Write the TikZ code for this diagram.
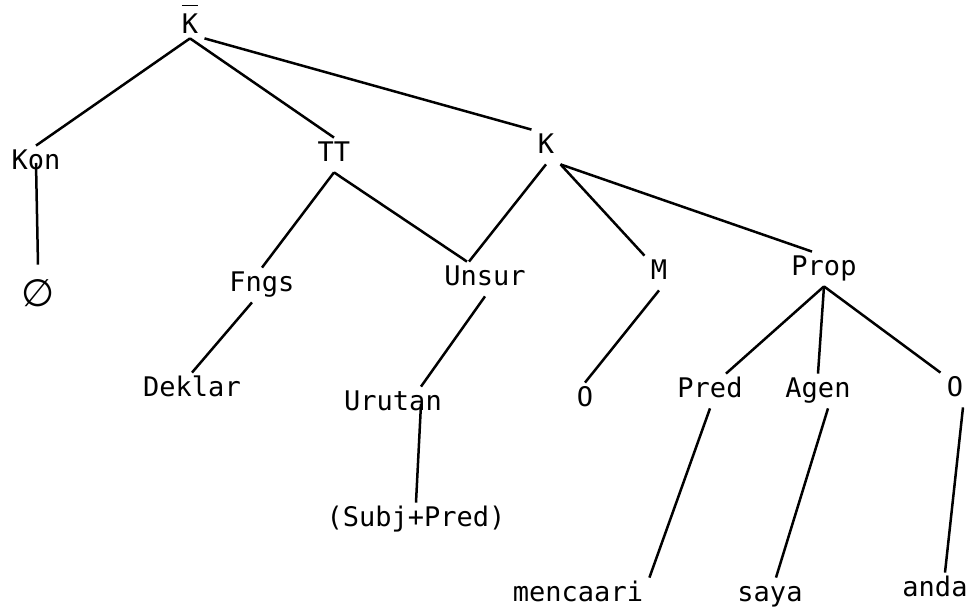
\documentclass[tikz,border=0pt]{standalone}
\usepackage{fontspec}
\setmainfont{DejaVu Sans Mono}
\newfontfamily\symfont{DejaVu Sans}
\usepackage{tikz}
\tikzset{>=latex}
\usetikzlibrary{positioning}
\tikzset{
  kata/.style={inner sep=3pt, font=\fontsize{13.5}{15}\selectfont,
               text height=9pt, text depth=2pt},
  cabang/.style={line width=1.25pt}
}

\begin{document}
\begin{tikzpicture}[on grid]

 % frame of the page
 \useasboundingbox (-95pt,13.5pt) rectangle (393pt,-290.5pt);

 % ROOT (bar lifted a little above the K)
 \node[kata] (Kbar) at (0,0) {$\overline{\mbox{\raisebox{0pt}[13pt]{K}}}$};

 % first level under the root
 \node[kata, below left=68pt and 77pt of Kbar] (Kon) {Kon};
 \node[kata, below right=64pt and 72pt of Kbar] (TT) {TT};
 \node[kata, below right=60pt and 178pt of Kbar] (K) {K};

 % Kon: empty set sign, drawn larger
 \node[kata, below=65pt of Kon, xshift=1pt,
  font=\symfont\fontsize{19}{20}\selectfont,
  text height=14pt, text depth=0pt] (Nol) {∅};

 % TT
 \node[kata, below left=65pt and 36pt of TT] (Fngs) {Fngs};
 \node[kata, below right=62pt and 75.5pt of TT] (Unsur) {Unsur};
 \node[kata, below left=52.5pt and 35pt of Fngs] (Deklar) {Deklar};
 \node[kata, below left=62.5pt and 46pt of Unsur] (Urutan) {Urutan};
 \node[kata, below right=58pt and 11.5pt of Urutan] (SubjPred) {(Subj+Pred)};

 % K: modality and proposition
 \node[kata, below right=63pt and 56.5pt of K] (M) {M};
 \node[kata, below right=61pt and 139pt of K] (Prop) {Prop};
 \node[kata, below left=63.5pt and 37pt of M] (MO) {O};
 \node[kata, below left=61pt and 57pt of Prop] (Pred) {Pred};
 \node[kata, below left=61pt and 3pt of Prop] (Agen) {Agen};
 \node[kata, below right=60.5pt and 65.5pt of Prop] (Obj) {O};

 % words
 \node[kata, below left=102pt and 66pt of Pred] (mencaari) {mencaari};
 \node[kata, below left=102pt and 24pt of Agen] (saya) {saya};
 \node[kata, below left=100pt and 10pt of Obj] (anda) {anda};

 % branches
 \path[cabang]
 ([yshift=3pt]Kbar.south)       edge (Kon.north)
 ([yshift=3pt]Kbar.south)       edge (TT.north)
 ([yshift=3pt]Kbar.south east)  edge (K.north west)
 (Kon.center)       edge ([yshift=4pt]Nol.north)
 (TT.south)         edge (Fngs.north)
 (TT.south)         edge ([xshift=-9pt]Unsur.north)
 (K.south)          edge ([xshift=-8pt]Unsur.north)
 (K.south east)     edge (M.north west)
 (K.south east)     edge ([xshift=-6pt]Prop.north)
 ([xshift=-5pt]Fngs.south) edge (Deklar.north)
 (Unsur.south)      edge ([xshift=14pt]Urutan.north)
 ([xshift=14pt]Urutan.center) edge (SubjPred.north)
 (M.south)          edge (MO.north)
 (Prop.south)       edge ([xshift=8pt]Pred.north)
 (Prop.south)       edge (Agen.north)
 (Prop.south)       edge (Obj.north west)
 (Pred.south)       edge (mencaari.north east)
 ([xshift=5pt]Agen.south) edge ([xshift=3pt]saya.north)
 ([xshift=4pt]Obj.south)  edge ([xshift=5pt]anda.north);

\end{tikzpicture}
\end{document}
